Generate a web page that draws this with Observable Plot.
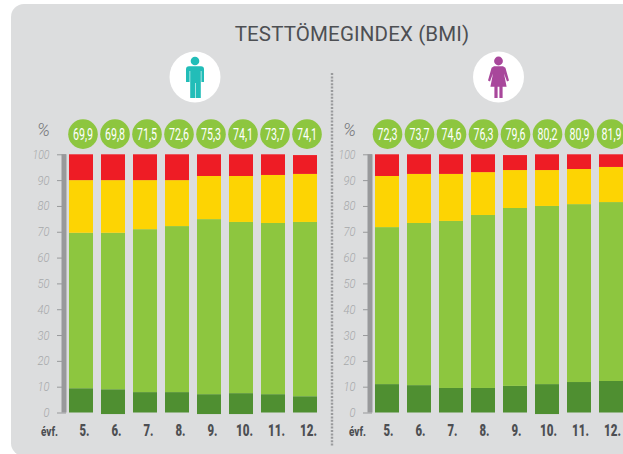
<!DOCTYPE html>
<html lang="hu">
<head>
<meta charset="utf-8">
<script src="https://cdn.jsdelivr.net/npm/d3@7"></script>
<script src="https://cdn.jsdelivr.net/npm/@observablehq/plot@0.6"></script>
<style>
html,body{margin:0;padding:0;background:#fff;overflow:hidden;width:623px;height:454px}
#panel{position:absolute;left:11px;top:4px;width:640px;height:452px;background:#dcddde;border-radius:13px}
#title{position:absolute;left:152px;width:400px;top:21px;text-align:center;font:400 20.5px Roboto,sans-serif;letter-spacing:.15px;color:#4d4f53;line-height:26px;white-space:nowrap}
#deco{position:absolute;left:0;top:0}
.p{position:absolute;top:0}
.p svg{background:transparent;overflow:hidden}
</style>
</head>
<body>
<div id="panel"></div>
<svg id="deco" width="623" height="454">
  <line x1="332" y1="73" x2="332" y2="447" stroke="#9a9b9d" stroke-width="2.4" stroke-dasharray="2 1.4"/>
  <circle cx="195" cy="77" r="25.5" fill="#fff"/>
  <circle cx="498.5" cy="77" r="25.5" fill="#fff"/>
  <g fill="#22bdb8">
    <circle cx="195" cy="61" r="4.3"/>
    <path d="M189 66.3h12a3 3 0 0 1 3 3V82h-2.6V71h-.6v27h-5v-15h-.6v15h-5V71h-.6v11H186V69.3a3 3 0 0 1 3-3z"/>
  </g>
  <g fill="#a8479b">
    <circle cx="498.5" cy="61" r="4.4"/>
    <path d="M494 66.3h9l2.4 1.4L509 80.5l-2 .9-3-8 2.6 13.3h-4v11.3h-3.2V86.7h-1.8v11.3h-3.2V86.7h-4l2.6-13.3-3 8-2-.9 3.6-12.8z"/>
  </g>
</svg>
<div id="title">TESTTÖMEGINDEX (BMI)</div>
<div id="left" class="p" style="left:0"></div>
<div id="right" class="p" style="left:320px"></div>
<script>
const grades = ["5.", "6.", "7.", "8.", "9.", "10.", "11.", "12."];
const yTicks = [0, 10, 20, 30, 40, 50, 60, 70, 80, 90, 100];

const maleLabels = ["69,9", "69,8", "71,5", "72,6", "75,3", "74,1", "73,7", "74,1"];
const maleBase = [0, -0.6, 0, 0, -0.6, -0.6, 0, 0];
const maleDark = [9.4, 9.0, 7.9, 7.9, 7.1, 7.5, 7.1, 6.3];
const maleGreen = [69.6, 69.6, 71.0, 72.2, 74.9, 73.8, 73.4, 73.8];
const maleYellow = [90.0, 90.0, 90.0, 90.0, 91.6, 91.6, 92.0, 92.4];
const maleRed = [100, 100, 100, 100, 100, 100, 100, 99.7];

const femaleLabels = ["72,3", "73,7", "74,6", "76,3", "79,6", "80,2", "80,9", "81,9"];
const femaleBase = [0, 0, 0, 0, 0, -0.6, 0, 0];
const femaleDark = [11.0, 10.6, 9.5, 9.5, 10.3, 11.0, 11.8, 12.2];
const femaleGreen = [71.8, 73.4, 74.2, 76.5, 79.2, 80.0, 80.7, 81.5];
const femaleYellow = [91.6, 92.4, 92.4, 93.1, 93.9, 93.9, 94.3, 95.1];
const femaleRed = [100, 100, 100, 100, 99.7, 100, 100, 100];

const colors = {dark: "#4f8f31", green: "#8dc63f", yellow: "#fdd403", red: "#ee1c25"};
const bubbleY = 108, face = "Roboto,sans-serif";

// Squeeze Roboto into the condensed proportions of the original typeface.
function squeeze(svg) {
  svg.querySelectorAll("text").forEach(t => {
    const s = t.textContent;
    let w = null;
    if (/^\d\d,\d$/.test(s)) w = 20;
    else if (s === "évf.") w = 17;
    else if (/^\d{1,2}\.$/.test(s)) w = s.length === 2 ? 10 : 17;
    else if (/^\d+$/.test(s)) w = s.length === 3 ? 17 : s.length === 2 ? 12 : 6;
    if (w != null) {
      t.setAttribute("textLength", w);
      t.setAttribute("lengthAdjust", "spacingAndGlyphs");
    }
  });
}

function panel({width, x0, labels, base, dark, green, yellow, red, bubbleDx, tickDx, evfDx}) {
  const segs = [
    [base, dark, colors.dark], [dark, green, colors.green],
    [green, yellow, colors.yellow], [yellow, red, colors.red]
  ];
  const rows = segs.flatMap(([lo, hi, fill]) =>
    grades.map((g, i) => ({g, lo: lo[i], hi: hi[i], fill})));
  const bubbles = grades.map((g, i) => ({g, label: labels[i]}));
  const svg = Plot.plot({
    width, height: 454,
    marginLeft: x0 + 1, marginRight: 0, marginTop: 154.3, marginBottom: 41.5,
    style: {background: "transparent", overflow: "hidden"},
    x: {type: "band", domain: grades, range: [x0, x0 + 256], paddingInner: 0.25, paddingOuter: 0.125, round: false, label: null},
    y: {domain: [0, 100], range: [412.5, 154.3], label: null},
    marks: [
      Plot.axisY(yTicks, {
        anchor: "left", tickSize: 9, tickPadding: 8, stroke: "#98999b", tickFormat: d => d,
        fill: "#a6a8aa", fontSize: 12.5, fontStyle: "italic", fontWeight: 300, fontFamily: face
      }),
      Plot.ruleX([grades[0]], {x: d => d, y1: 0, y2: 100, dx: -17.5, stroke: "#98999b", strokeWidth: 5}),
      Plot.barY(rows, {x: "g", y1: "lo", y2: "hi", fill: "fill"}),
      Plot.dot(bubbles, {x: "g", y: () => bubbleY, r: 14.8, fill: colors.green, dx: bubbleDx}),
      Plot.text(bubbles, {x: "g", y: () => bubbleY, text: "label", fill: "#fff", dx: bubbleDx, dy: 0.5,
        fontSize: 16, fontWeight: 400, fontFamily: face}),
      Plot.axisX({
        anchor: "bottom", tickSize: 0, tickPadding: 12, dx: tickDx, fill: "#4d4f53", fontSize: 16,
        fontWeight: 900, fontFamily: face, label: null
      }),
      Plot.text(["%"], {x: () => grades[0], y: () => bubbleY + 1.4, text: d => d, dx: -38, fill: "#77787b",
        fontSize: 18, fontStyle: "italic", fontWeight: 300, fontFamily: face}),
      Plot.text(["évf."], {x: () => grades[0], y: () => -7.4, text: d => d, dx: evfDx, fill: "#4d4f53",
        fontSize: 12, fontWeight: 800, fontFamily: face})
    ]
  });
  squeeze(svg);
  return svg;
}

document.getElementById("left").append(panel({
  width: 340, x0: 65, labels: maleLabels, base: maleBase, dark: maleDark, green: maleGreen,
  yellow: maleYellow, red: maleRed, bubbleDx: 1.5, tickDx: 3, evfDx: -32
}));
document.getElementById("right").append(panel({
  width: 303, x0: 51, labels: femaleLabels, base: femaleBase, dark: femaleDark, green: femaleGreen,
  yellow: femaleYellow, red: femaleRed, bubbleDx: 0, tickDx: 1, evfDx: -30
}));
</script>
</body>
</html>
